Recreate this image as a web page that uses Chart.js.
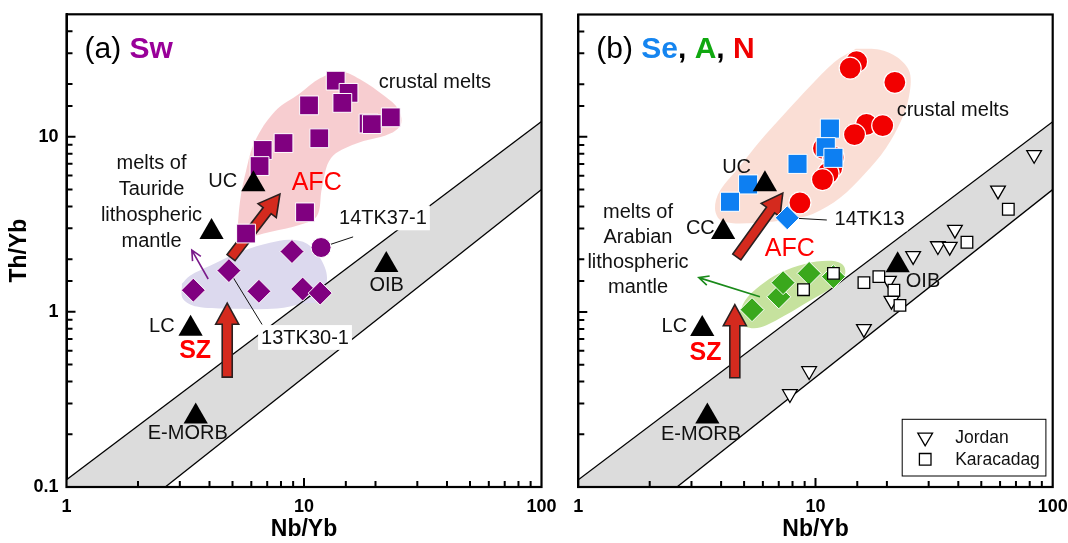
<!DOCTYPE html>
<html>
<head>
<meta charset="utf-8">
<title>Th/Yb vs Nb/Yb</title>
<script src="https://cdn.jsdelivr.net/npm/chart.js@4.4.1/dist/chart.umd.min.js"></script>
<style>
  body { margin: 0; background: #fff; overflow: hidden; }
  #plots { position: relative; width: 1068px; height: 543px; }
  #plots canvas { position: absolute; top: 0; }
</style>
</head>
<body>
<div id="plots">
  <canvas id="chartA" width="560" height="543" style="left:0px"></canvas>
  <canvas id="chartB" width="534" height="543" style="left:534px"></canvas>
</div>
<script>
const FONT = "'Liberation Sans', Arial, Helvetica, sans-serif";

// axes
const nbRange = [1, 100];
const thRange = [0.1, 50];
const nbLabels = ["1", "10", "100"];
const thLabels = ["0.1", "1", "10"];

// reference compositions (black triangles)
const refNames = ["E-MORB", "OIB", "LC", "UC", "CC"];
const refNb = [3.5, 22.2, 3.33, 6.12, 4.08];
const refTh = [0.253, 1.85, 0.8, 5.36, 2.86];

// MORB-OIB array edges
const arrNb = [1, 100];
const arrUpperTh = [0.11, 12.2];
const arrLowerTh = [0.0358, 5.0];

// (a) Sw
const swSqNb = [13.6, 15.4, 10.5, 14.5, 18.7, 19.3, 23.2, 11.6, 8.2, 6.7, 6.5, 10.1, 5.7];
const swSqTh = [20.9, 17.8, 15.1, 15.6, 11.9, 11.8, 12.9, 9.8, 9.2, 8.4, 6.8, 3.7, 2.8];
const swDiaNb = [8.9, 4.83, 3.42, 6.46, 9.87, 11.7];
const swDiaTh = [2.21, 1.72, 1.33, 1.31, 1.35, 1.28];
const swCircNb = [11.8];
const swCircTh = [2.33];

// (b) Se, A, N
const seSqNb = [11.5, 11.05, 11.9, 8.4, 5.2, 4.36];
const seSqTh = [11.15, 8.73, 7.59, 7.01, 5.35, 4.26];
const seDiaNb = [7.6];
const seDiaTh = [3.45];
const aDiaNb = [5.4, 7.0, 7.3, 9.4, 11.9];
const aDiaTh = [1.03, 1.22, 1.47, 1.66, 1.59];
const nCircNb = [14.9, 14.0, 21.6, 16.4, 19.2, 14.6, 10.8, 11.9, 11.7, 11.3, 10.7, 8.6];
const nCircTh = [26.9, 24.7, 20.5, 11.8, 11.6, 10.3, 8.6, 7.65, 6.65, 6.2, 5.7, 4.2];
const jordanNb = [83.5, 58.8, 38.7, 32.8, 36.8, 25.8, 20.4, 20.9, 16.0, 9.4, 7.8];
const jordanTh = [7.9, 4.95, 2.95, 2.38, 2.36, 2.09, 1.51, 1.16, 0.80, 0.46, 0.34];
const karaNb = [65, 43.5, 8.9, 11.9, 16.0, 18.5, 21.4, 22.7];
const karaTh = [3.86, 2.5, 1.34, 1.66, 1.47, 1.59, 1.33, 1.09];

// shaded fields
const swCrustNb = [5.22, 5.38, 5.70, 6.22, 7.55, 9.62, 11.68, 14.18, 17.21, 21.9, 24.9, 25.6, 22.8, 16.4, 13.0, 11.9, 11.34, 9.62, 7.19, 5.64];
const swCrustTh = [2.68, 4.30, 6.37, 9.44, 13.98, 17.7, 21.55, 23.6, 21.3, 17.0, 14.4, 11.8, 10.35, 9.08, 7.55, 5.10, 3.53, 3.14, 2.86, 2.65];
const swMantleNb = [3.06, 3.09, 3.54, 4.74, 7.70, 9.90, 11.68, 12.5, 11.68, 10.3, 8.73, 7.19, 5.54, 4.02, 3.31];
const swMantleTh = [1.449, 1.19, 1.072, 1.044, 1.044, 1.115, 1.16, 1.567, 2.04, 2.45, 2.58, 2.48, 2.23, 1.835, 1.61];
const bCrustNb = [14.8, 18.66, 22.2, 24.96, 24.7, 22.9, 19.8, 16.1, 12.66, 9.74, 7.79, 5.55, 4.03, 3.77, 3.95, 4.80, 5.83, 7.42, 9.46, 12.06];
const bCrustTh = [31.9, 31.5, 28.4, 23.3, 16.6, 12.27, 8.61, 6.13, 4.47, 3.63, 3.40, 3.22, 3.31, 3.87, 4.90, 6.80, 9.44, 13.6, 19.4, 26.9];
const aMantleNb = [4.71, 5.04, 5.83, 7.42, 9.46, 11.71, 13.29, 13.03, 11.49, 9.02, 7.07, 5.83, 5.04];
const aMantleTh = [0.916, 0.825, 0.814, 0.953, 1.16, 1.375, 1.63, 1.86, 1.96, 1.88, 1.67, 1.41, 1.16];

// arrows (start -> tip)
const afcANb = [4.93, 7.92], afcATh = [2.04, 4.71];
const szANb = [4.75, 4.75], szATh = [0.424, 1.12];
const afcBNb = [4.66, 7.28], afcBTh = [2.06, 4.78];
const szBNb = [4.57, 4.57], szBTh = [0.421, 1.10];
const lithANb = [3.95, 3.37], lithATh = [1.54, 2.25];
const lithBNb = [5.83, 3.22], lithBTh = [1.22, 1.57];

// sample leader lines
const tk37Nb = [11.8, 16.1], tk37Th = [2.33, 2.68];
const tk30Nb = [4.83, 6.66], tk30Th = [1.72, 0.847];
const tk13Nb = [7.6, 11.16], tk13Th = [3.45, 3.35];

// ---- styles ----
const purple = '#800080';
const blue = '#0d7ff2';
const refStyle = { pointStyle: 'triangle', pointRadius: 14, backgroundColor: '#000', borderColor: '#000', borderWidth: 0 };
const swSqStyle = { pointStyle: 'rect', pointRadius: 13.3, backgroundColor: purple, borderColor: '#fff', borderWidth: 1 };
const swDiaStyle = { pointStyle: 'rectRot', pointRadius: 12, backgroundColor: purple, borderColor: '#fff', borderWidth: 1 };
const swCircStyle = { pointStyle: 'circle', pointRadius: 10, backgroundColor: purple, borderColor: '#fff', borderWidth: 1 };
const seSqStyle = { pointStyle: 'rect', pointRadius: 13.5, backgroundColor: blue, borderColor: '#fff', borderWidth: 1 };
const seDiaStyle = { pointStyle: 'rectRot', pointRadius: 12, backgroundColor: blue, borderColor: '#fff', borderWidth: 1 };
const aDiaStyle = { pointStyle: 'rectRot', pointRadius: 12, backgroundColor: '#3aa81c', borderColor: '#fff', borderWidth: 1 };
const nCircStyle = { pointStyle: 'circle', pointRadius: 11, backgroundColor: '#f20000', borderColor: '#fff', borderWidth: 1.2 };
const jordanStyle = { pointStyle: 'triangle', pointRotation: 180, pointRadius: 8.5, backgroundColor: '#fff', borderColor: '#000', borderWidth: 1.3 };
const karaStyle = { pointStyle: 'rect', pointRadius: 8.2, backgroundColor: '#fff', borderColor: '#000', borderWidth: 1.3 };

function pts(xs, ys) { return xs.map((x, i) => ({ x: x, y: ys[i] })); }
function closed(xs, ys) { const p = pts(xs, ys); p.push(p[0]); return p; }

function bandSets() {
  return [
    { data: pts(arrNb, arrUpperTh), showLine: true, borderColor: '#000', borderWidth: 1.3,
      backgroundColor: '#dcdcdc', fill: '+1', pointRadius: 0, order: 100 },
    { data: pts(arrNb, arrLowerTh), showLine: true, borderColor: '#000', borderWidth: 1.3,
      fill: false, pointRadius: 0, order: 99 }
  ];
}
function zone(xs, ys, color) {
  return { data: closed(xs, ys), showLine: true, fill: 'shape', tension: 0.35, backgroundColor: color,
    borderColor: 'rgba(0,0,0,0)', borderWidth: 1, pointRadius: 0, order: 98 };
}
function leader(xs, ys) {
  return { data: pts(xs, ys), showLine: true, borderColor: '#111', borderWidth: 1, pointRadius: 0, order: 90 };
}
function marks(xs, ys, style, order) {
  return Object.assign({ data: pts(xs, ys), showLine: false, order: order }, style);
}

// ---- annotations per panel ----
const RED = '#ff0000';
const decorations = {
  chartA: {
    title: [{ text: '(a) ', color: '#000', weight: 'normal' }, { text: 'Sw', color: '#990099', weight: 'bold' }],
    fatArrows: [{ xs: afcANb, ys: afcATh }, { xs: szANb, ys: szATh }],
    thinArrows: [{ xs: lithANb, ys: lithATh, color: '#7a1a8a' }],
    labels: [
      { text: 'crustal melts', x: 35.6, y: 20.7 },
      { text: ['melts of', 'Tauride', 'lithospheric', 'mantle'], x: 2.28, y: 4.25, lineHeight: 26 },
      { text: 'UC', x: 4.55, y: 5.59 },
      { text: 'AFC', x: 11.31, y: 5.47, color: RED, size: 25 },
      { text: '14TK37-1', x: 21.5, y: 3.44, boxed: true },
      { text: '13TK30-1', x: 10.1, y: 0.714, boxed: true },
      { text: 'OIB', x: 22.3, y: 1.43 },
      { text: 'LC', x: 2.52, y: 0.836 },
      { text: 'SZ', x: 3.48, y: 0.602, color: RED, size: 25, weight: 'bold' },
      { text: 'E-MORB', x: 3.24, y: 0.204 }
    ],
    legend: null
  },
  chartB: {
    title: [
      { text: '(b) ', color: '#000', weight: 'normal' },
      { text: 'Se', color: '#1585f0', weight: 'bold' },
      { text: ', ', color: '#000', weight: 'bold' },
      { text: 'A', color: '#10a810', weight: 'bold' },
      { text: ', ', color: '#000', weight: 'bold' },
      { text: 'N', color: '#f00000', weight: 'bold' }
    ],
    fatArrows: [{ xs: afcBNb, ys: afcBTh }, { xs: szBNb, ys: szBTh }],
    thinArrows: [{ xs: lithBNb, ys: lithBTh, color: '#1a8a1a' }],
    labels: [
      { text: 'crustal melts', x: 37.9, y: 14.36 },
      { text: ['melts of', 'Arabian', 'lithospheric', 'mantle'], x: 1.785, y: 2.29, lineHeight: 25.3 },
      { text: 'UC', x: 4.65, y: 6.8 },
      { text: 'CC', x: 3.27, y: 3.03 },
      { text: 'AFC', x: 7.79, y: 2.33, color: RED, size: 25 },
      { text: '14TK13', x: 16.9, y: 3.40, boxed: true },
      { text: 'OIB', x: 28.4, y: 1.507 },
      { text: 'LC', x: 2.54, y: 0.836 },
      { text: 'SZ', x: 3.44, y: 0.589, color: RED, size: 25, weight: 'bold' },
      { text: 'E-MORB', x: 3.29, y: 0.202 }
    ],
    legend: [{ text: 'Jordan', style: jordanStyle }, { text: 'Karacadag', style: karaStyle }]
  }
};

function isDecade(v) {
  const l = Math.log10(v);
  return Math.abs(l - Math.round(l)) < 1e-6;
}

function drawFatArrow(ctx, chart, a) {
  const xs = chart.scales.x, ys = chart.scales.y;
  const x0 = xs.getPixelForValue(a.xs[0]), y0 = ys.getPixelForValue(a.ys[0]);
  const x1 = xs.getPixelForValue(a.xs[1]), y1 = ys.getPixelForValue(a.ys[1]);
  const len = Math.hypot(x1 - x0, y1 - y0);
  const shaft = 10, headW = 23, headL = 21;
  ctx.save();
  ctx.translate(x0, y0);
  ctx.rotate(Math.atan2(y1 - y0, x1 - x0));
  ctx.beginPath();
  ctx.moveTo(0, -shaft / 2);
  ctx.lineTo(len - headL, -shaft / 2);
  ctx.lineTo(len - headL, -headW / 2);
  ctx.lineTo(len, 0);
  ctx.lineTo(len - headL, headW / 2);
  ctx.lineTo(len - headL, shaft / 2);
  ctx.lineTo(0, shaft / 2);
  ctx.closePath();
  ctx.fillStyle = '#d42a1e';
  ctx.fill();
  ctx.lineWidth = 1.6;
  ctx.lineJoin = 'miter';
  ctx.strokeStyle = '#2b2020';
  ctx.stroke();
  ctx.restore();
}

function drawThinArrow(ctx, chart, a) {
  const xs = chart.scales.x, ys = chart.scales.y;
  const x0 = xs.getPixelForValue(a.xs[0]), y0 = ys.getPixelForValue(a.ys[0]);
  const x1 = xs.getPixelForValue(a.xs[1]), y1 = ys.getPixelForValue(a.ys[1]);
  const ang = Math.atan2(y1 - y0, x1 - x0);
  ctx.save();
  ctx.strokeStyle = a.color;
  ctx.lineWidth = 1.6;
  ctx.beginPath();
  ctx.moveTo(x0, y0);
  ctx.lineTo(x1, y1);
  ctx.moveTo(x1 - 11 * Math.cos(ang - 0.45), y1 - 11 * Math.sin(ang - 0.45));
  ctx.lineTo(x1, y1);
  ctx.lineTo(x1 - 11 * Math.cos(ang + 0.45), y1 - 11 * Math.sin(ang + 0.45));
  ctx.stroke();
  ctx.restore();
}

function drawLabel(ctx, chart, l) {
  const x = chart.scales.x.getPixelForValue(l.x);
  const y = chart.scales.y.getPixelForValue(l.y);
  const lines = Array.isArray(l.text) ? l.text : [l.text];
  const lh = l.lineHeight || 24;
  const size = l.size || 20;
  const y0 = y - (lines.length - 1) * lh / 2;
  ctx.save();
  ctx.font = (l.weight || 'normal') + ' ' + size + 'px ' + FONT;
  ctx.textAlign = 'center';
  ctx.textBaseline = 'middle';
  if (l.boxed) {
    const w = Math.max.apply(null, lines.map(s => ctx.measureText(s).width));
    ctx.fillStyle = '#fff';
    ctx.fillRect(x - w / 2 - 3, y0 - size * 0.62, w + 6, size * 1.24 + (lines.length - 1) * lh);
  }
  ctx.fillStyle = l.color || '#111';
  lines.forEach((s, i) => ctx.fillText(s, x, y0 + i * lh + 1));
  ctx.restore();
}

const decorPlugin = {
  id: 'decor',
  afterDatasetDraw(chart, args) {
    if (args.index !== 1) return;   // right after the lower edge of the MORB-OIB array
    const d = decorations[chart.canvas.id];
    d.fatArrows.forEach(a => drawFatArrow(chart.ctx, chart, a));
    d.thinArrows.forEach(a => drawThinArrow(chart.ctx, chart, a));
  },
  afterDatasetsDraw(chart) {
    const d = decorations[chart.canvas.id];
    const ctx = chart.ctx;
    const area = chart.chartArea;
    d.labels.forEach(l => drawLabel(ctx, chart, l));

    // panel title
    ctx.save();
    ctx.textBaseline = 'middle';
    ctx.textAlign = 'left';
    let tx = area.left + 18;
    d.title.forEach(seg => {
      ctx.font = seg.weight + ' 30px ' + FONT;
      ctx.fillStyle = seg.color;
      ctx.fillText(seg.text, tx, area.top + 35);
      tx += ctx.measureText(seg.text).width;
    });
    ctx.restore();

    // legend box
    if (d.legend) {
      const bx = area.right - 150.5, by = area.bottom - 67.7, bw = 143.7, bh = 56.7;
      ctx.save();
      ctx.fillStyle = '#fff';
      ctx.fillRect(bx, by, bw, bh);
      ctx.strokeStyle = '#000';
      ctx.lineWidth = 1;
      ctx.strokeRect(bx, by, bw, bh);
      d.legend.forEach((item, i) => {
        const cy = by + 18 + i * 22;
        const s = item.style;
        ctx.fillStyle = s.backgroundColor;
        ctx.strokeStyle = s.borderColor;
        ctx.lineWidth = s.borderWidth;
        Chart.helpers.drawPoint(ctx, { pointStyle: s.pointStyle, rotation: s.pointRotation || 0,
          radius: s.pointRadius, borderWidth: s.borderWidth }, bx + 23, cy);
        ctx.fillStyle = '#111';
        ctx.font = 'normal 17.5px ' + FONT;
        ctx.textAlign = 'left';
        ctx.textBaseline = 'middle';
        ctx.fillText(item.text, bx + 53, cy + 1);
      });
      ctx.restore();
    }
  },
  afterDraw(chart) {
    const ctx = chart.ctx;
    const area = chart.chartArea;
    const xs = chart.scales.x, ys = chart.scales.y;
    ctx.save();
    ctx.strokeStyle = '#000';
    ctx.lineWidth = 2;
    ctx.beginPath();
    xs.ticks.forEach(t => {
      const px = xs.getPixelForValue(t.value);
      if (px <= area.left + 1 || px >= area.right - 1) return;
      const len = isDecade(t.value) ? 9 : 6;
      ctx.moveTo(px, area.bottom);
      ctx.lineTo(px, area.bottom - len);
    });
    ys.ticks.forEach(t => {
      const py = ys.getPixelForValue(t.value);
      if (py <= area.top + 1 || py >= area.bottom - 1) return;
      const len = isDecade(t.value) ? 9 : 6;
      ctx.moveTo(area.left, py);
      ctx.lineTo(area.left + len, py);
    });
    ctx.stroke();
    ctx.lineWidth = 2.2;
    ctx.strokeRect(area.left, area.top, area.right - area.left, area.bottom - area.top);
    ctx.restore();
  }
};

function makeOptions(showY, yWidth, rightPad) {
  const tickFont = { family: FONT, size: 18, weight: 'bold' };
  const titleFont = { family: FONT, size: 23, weight: 'bold' };
  return {
    responsive: false,
    animation: false,
    devicePixelRatio: 1,
    events: [],
    layout: { padding: { top: 13, right: rightPad, bottom: 0, left: 0 } },
    plugins: {
      legend: { display: false },
      tooltip: { enabled: false },
      filler: { drawTime: 'beforeDatasetsDraw' }
    },
    scales: {
      x: {
        type: 'logarithmic', min: nbRange[0], max: nbRange[1],
        grid: { display: false, drawTicks: false },
        border: { display: true, color: '#000', width: 2 },
        ticks: { autoSkip: false, maxRotation: 0, padding: 9, color: '#000', font: tickFont,
          callback: v => (nbLabels.includes(String(v)) ? String(v) : '') },
        title: { display: true, text: 'Nb/Yb', color: '#000', font: titleFont, padding: { top: 0, bottom: 0 } },
        afterFit: s => { s.height = 56; s.paddingLeft = 0; s.paddingRight = 0; }
      },
      y: {
        type: 'logarithmic', min: thRange[0], max: thRange[1],
        grid: { display: false, drawTicks: false },
        border: { display: true, color: '#000', width: 2 },
        ticks: { display: showY, autoSkip: false, padding: 8, color: '#000', font: tickFont,
          callback: v => (thLabels.includes(String(v)) ? String(v) : '') },
        title: { display: showY, text: 'Th/Yb', color: '#000', font: titleFont, padding: { top: 6, bottom: 6 } },
        afterFit: s => { s.width = yWidth; s.paddingTop = 0; s.paddingBottom = 0; }
      }
    }
  };
}

Chart.defaults.font.family = FONT;

new Chart(document.getElementById('chartA'), {
  type: 'scatter',
  data: {
    datasets: bandSets().concat([
      zone(swCrustNb, swCrustTh, 'rgba(238,150,156,0.48)'),
      zone(swMantleNb, swMantleTh, '#dcd9ee'),
      leader(tk37Nb, tk37Th),
      leader(tk30Nb, tk30Th),
      marks(swSqNb, swSqTh, swSqStyle, 5),
      marks(swDiaNb, swDiaTh, swDiaStyle, 4),
      marks(swCircNb, swCircTh, swCircStyle, 3),
      marks(refNb, refTh, refStyle, 1)
    ])
  },
  options: makeOptions(true, 66.5, 18.5),
  plugins: [decorPlugin]
});

new Chart(document.getElementById('chartB'), {
  type: 'scatter',
  data: {
    datasets: bandSets().concat([
      zone(bCrustNb, bCrustTh, 'rgba(246,200,185,0.6)'),
      zone(aMantleNb, aMantleTh, '#c6e29e'),
      leader(tk13Nb, tk13Th),
      marks(jordanNb, jordanTh, jordanStyle, 9),
      marks(aDiaNb, aDiaTh, aDiaStyle, 8),
      marks(karaNb, karaTh, karaStyle, 7),
      marks(nCircNb, nCircTh, nCircStyle, 6),
      marks(seSqNb, seSqTh, seSqStyle, 5),
      marks(seDiaNb, seDiaTh, seDiaStyle, 4),
      marks(refNb, refTh, refStyle, 1)
    ])
  },
  options: makeOptions(false, 44.3, 15.3),
  plugins: [decorPlugin]
});
</script>
</body>
</html>
